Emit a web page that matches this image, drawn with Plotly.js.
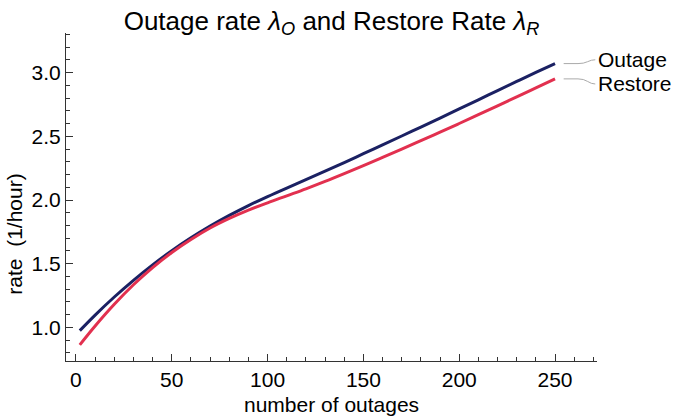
<!DOCTYPE html>
<html>
<head>
<meta charset="utf-8">
<script src="https://cdn.plot.ly/plotly-3.0.1.min.js"></script>
<style>html,body{margin:0;padding:0;background:#fff;}#chart{width:674px;height:418px;}</style>
</head>
<body>
<div id="chart"></div>
<script>
const numOutages = [2, 10, 20, 30, 40, 50, 60, 70, 80, 90, 100, 110, 120, 130, 140, 150, 160, 170, 180, 190, 200, 210, 220, 230, 240, 250];
const outageRate = [0.975, 1.097, 1.239, 1.370, 1.491, 1.602, 1.703, 1.795, 1.879, 1.956, 2.027, 2.094, 2.159, 2.226, 2.294, 2.363, 2.432, 2.502, 2.572, 2.643, 2.714, 2.786, 2.858, 2.930, 3.001, 3.070];
const restoreRate = [0.864, 1.012, 1.182, 1.335, 1.470, 1.588, 1.690, 1.780, 1.855, 1.920, 1.978, 2.033, 2.088, 2.146, 2.207, 2.270, 2.334, 2.399, 2.465, 2.532, 2.600, 2.669, 2.739, 2.809, 2.879, 2.950];
const seriesNames = ["Outage", "Restore"];
const labelY = [3.10, 2.91];

const FONT = "Liberation Sans, Arial, sans-serif";
const colors = ["#1b2163", "#e2304f"];

const traces = [
  {x: numOutages, y: outageRate, mode: "lines", line: {color: colors[0], width: 3, shape: "spline", smoothing: 1}, name: seriesNames[0], hoverinfo: "skip"},
  {x: numOutages, y: restoreRate, mode: "lines", line: {color: colors[1], width: 3, shape: "spline", smoothing: 1}, name: seriesNames[1], hoverinfo: "skip"}
];

const lastX = numOutages[numOutages.length - 1];
const ends = [outageRate[outageRate.length - 1], restoreRate[restoreRate.length - 1]];
const shapes = ends.map((yEnd, i) => ({
  type: "path", xref: "x", yref: "y",
  path: `M ${lastX + 4.5},${yEnd} L ${lastX + 12},${yEnd} Q ${lastX + 15},${yEnd} ${lastX + 17},${(yEnd + labelY[i]) / 2} T ${lastX + 21},${labelY[i]}`,
  line: {color: "#aaaaaa", width: 1}
}));

const annotations = [
  {text: "rate  (1/hour)", xref: "paper", yref: "paper", x: 0, y: 0.385, xshift: -51, textangle: -90, showarrow: false, font: {family: FONT, size: 21, color: "#000"}, xanchor: "center", yanchor: "middle"},
  {text: "number of outages", xref: "paper", yref: "paper", x: 0.5, y: 0, yshift: -43, showarrow: false, font: {family: FONT, size: 21, color: "#000"}, xanchor: "center", yanchor: "middle"}
].concat(seriesNames.map((n, i) => ({
  text: n, xref: "paper", yref: "y", x: 1, xshift: -1, y: labelY[i], showarrow: false, xanchor: "left", yanchor: "middle",
  font: {family: FONT, size: 21, color: "#000"}
})));

const layout = {
  width: 674, height: 418,
  margin: {l: 66, r: 77, t: 33, b: 56.5, pad: 0},
  paper_bgcolor: "#fff", plot_bgcolor: "#fff",
  showlegend: false,
  title: {text: "Outage rate <i>λ</i><sub><i>O</i></sub> and Restore Rate <i>λ</i><sub><i>R</i></sub>", x: 0.5, xref: "paper", y: 0.95, yref: "container", yanchor: "middle", font: {family: FONT, size: 26, color: "#000"}},
  xaxis: {range: [-5.2, 271.9], tick0: 0, dtick: 50, ticks: "inside", ticklen: 7, tickwidth: 1, tickcolor: "#333",
    minor: {dtick: 10, ticks: "inside", ticklen: 4, tickcolor: "#333", showgrid: false},
    showline: true, linecolor: "#333", linewidth: 1, showgrid: false, zeroline: false,
    tickfont: {family: FONT, size: 21, color: "#000"}},
  yaxis: {range: [0.737, 3.31], tick0: 0, dtick: 0.5, tickformat: ".1f", ticks: "inside", ticklen: 7, tickwidth: 1, tickcolor: "#333",
    minor: {dtick: 0.1, ticks: "inside", ticklen: 4, tickcolor: "#333", showgrid: false},
    showline: true, linecolor: "#333", linewidth: 1, showgrid: false, zeroline: false,
    tickfont: {family: FONT, size: 21, color: "#000"}},
  shapes: shapes,
  annotations: annotations
};

Plotly.newPlot("chart", traces, layout, {displayModeBar: false, staticPlot: true});
</script>
</body>
</html>
